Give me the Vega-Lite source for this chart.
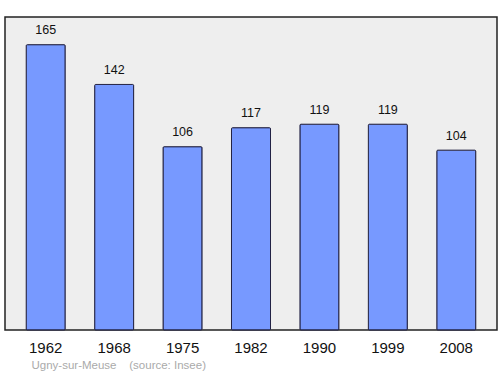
{
  "$schema": "https://vega.github.io/schema/vega-lite/v6.json",
  "width": 492,
  "height": 313,
  "autosize": {"type": "none"},
  "padding": {"left": 5, "top": 17, "right": 3, "bottom": 44},
  "background": "white",
  "config": {
    "font": "Liberation Sans",
    "view": {"fill": "#eeeeee", "stroke": "#222222", "strokeWidth": 1.5}
  },
  "data": {
    "values": [
      {"year": "1962", "pop": 165},
      {"year": "1968", "pop": 142},
      {"year": "1975", "pop": 106},
      {"year": "1982", "pop": 117},
      {"year": "1990", "pop": 119},
      {"year": "1999", "pop": 119},
      {"year": "2008", "pop": 104}
    ]
  },
  "encoding": {
    "x": {
      "field": "year",
      "type": "nominal",
      "sort": null,
      "scale": {"paddingInner": 0.43, "paddingOuter": 0.31},
      "axis": {
        "title": "Ugny-sur-Meuse\u00a0\u00a0\u00a0\u00a0(source: Insee)",
        "titleX": 26,
        "titleY": 35,
        "titleAlign": "left",
        "titleBaseline": "middle",
        "titleFontSize": 11.5,
        "titleFontWeight": "normal",
        "titleColor": "#aaaaaa",
        "labelAngle": 0,
        "labelFontSize": 15,
        "labelColor": "#111111",
        "labelPadding": 10,
        "ticks": false,
        "domain": false,
        "grid": false
      }
    },
    "y": {
      "field": "pop",
      "type": "quantitative",
      "scale": {"domain": [0, 181], "nice": false},
      "axis": null
    }
  },
  "layer": [
    {
      "mark": {"type": "bar", "fill": "#7799ff", "stroke": "#222244", "strokeWidth": 1, "cornerRadius": 1}
    },
    {
      "mark": {"type": "text", "dy": -14.5, "fontSize": 12.5, "color": "#111111"},
      "encoding": {"text": {"field": "pop", "type": "quantitative"}}
    }
  ]
}
